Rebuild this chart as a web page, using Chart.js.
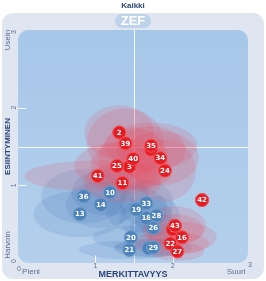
<!DOCTYPE html>
<html>
<head>
<meta charset="utf-8">
<script src="https://cdn.jsdelivr.net/npm/chart.js@4.4.0/dist/chart.umd.min.js"></script>
<style>
  html, body { margin: 0; padding: 0; background: #fff; }
  canvas { display: block; }
</style>
</head>
<body>
<canvas id="zefChart" width="266" height="281"></canvas>
<script>
// red group (label, merkittavyys, esiintyminen, spread x, spread y)
const redLabels = ["5", "2", "39", "35", "34", "3", "40", "25", "24", "41", "11", "42", "8", "43", "16", "22", "27"];
const redX      = [1.72, 1.31, 1.39, 1.72, 1.84, 1.44, 1.49, 1.28, 1.90, 1.03, 1.35, 2.38, 2.00, 2.03, 2.12, 1.97, 2.06];
const redY      = [1.46, 1.68, 1.54, 1.51, 1.35, 1.24, 1.34, 1.25, 1.19, 1.12, 1.03, 0.81, 0.43, 0.48, 0.33, 0.25, 0.15];
const redSdX    = [0.45, 0.45, 0.50, 0.60, 0.50, 0.50, 0.45, 0.55, 0.40, 0.95, 0.50, 0.08, 0.40, 0.40, 0.45, 0.50, 0.35];
const redSdY    = [0.30, 0.35, 0.45, 0.30, 0.35, 0.35, 0.40, 0.30, 0.40, 0.20, 0.25, 0.08, 0.20, 0.25, 0.20, 0.15, 0.12];

// blue group
const blueLabels = ["36", "10", "14", "13", "33", "19", "18", "28", "26", "20", "21", "9", "29"];
const blueX      = [0.85, 1.19, 1.07, 0.80, 1.66, 1.53, 1.66, 1.79, 1.75, 1.46, 1.44, 1.69, 1.75];
const blueY      = [0.86, 0.91, 0.75, 0.63, 0.77, 0.69, 0.58, 0.61, 0.45, 0.33, 0.17, 0.19, 0.20];
const blueSdX    = [0.55, 0.50, 0.45, 0.60, 0.35, 0.40, 0.35, 0.30, 0.30, 0.50, 0.65, 0.45, 0.50];
const blueSdY    = [0.35, 0.30, 0.30, 0.30, 0.30, 0.30, 0.25, 0.25, 0.20, 0.15, 0.12, 0.12, 0.12];

const tickValues = [0, 1, 2, 3];
const titleText = "Kaikki";
const xTitle = "MERKITTAVYYS";
const yTitle = "ESIINTYMINEN";
const xLowHigh = ["Pieni", "Suuri"];
const yLowHigh = ["Harvoin", "Usein"];

const navy = "#2c4677";

function toPoints(xs, ys) {
    return xs.map((x, i) => ({ x: x, y: ys[i] }));
}

function roundRect(ctx, x, y, w, h, r) {
    ctx.beginPath();
    ctx.moveTo(x + r, y);
    ctx.arcTo(x + w, y, x + w, y + h, r);
    ctx.arcTo(x + w, y + h, x, y + h, r);
    ctx.arcTo(x, y + h, x, y, r);
    ctx.arcTo(x, y, x + w, y, r);
    ctx.closePath();
}

function drawSpread(chart, xs, ys, sx, sy, color) {
    const ctx = chart.ctx;
    const xs_ = chart.scales.x, ys_ = chart.scales.y;
    ctx.fillStyle = color;
    for (let i = 0; i < xs.length; i++) {
        const cx = xs_.getPixelForValue(xs[i]);
        const cy = ys_.getPixelForValue(ys[i]);
        const rx = Math.abs(xs_.getPixelForValue(xs[i] + sx[i]) - cx);
        const ry = Math.abs(ys_.getPixelForValue(ys[i] + sy[i]) - cy);
        ctx.beginPath();
        ctx.ellipse(cx, cy, rx, ry, 0, 0, Math.PI * 2);
        ctx.fill();
    }
}

const backgroundPlugin = {
    id: 'zefBackground',
    beforeDraw(chart) {
        const ctx = chart.ctx;
        const a = chart.chartArea;
        const xs = chart.scales.x, ys = chart.scales.y;
        ctx.save();
        // outer panel
        ctx.fillStyle = "#dfe6f2";
        roundRect(ctx, 2, 13, 262, 266, 11);
        ctx.fill();
        // inner panel
        const grad = ctx.createLinearGradient(0, a.top, 0, a.bottom);
        grad.addColorStop(0, "#a7c7e9");
        grad.addColorStop(1, "#b3cfec");
        ctx.fillStyle = grad;
        roundRect(ctx, a.left, a.top, a.right - a.left - 2, a.bottom - a.top, 10);
        ctx.fill();

        // crosshair
        ctx.strokeStyle = "rgba(255,255,255,0.9)";
        ctx.lineWidth = 1;
        const mx = Math.round(xs.getPixelForValue(1.5)) + 0.5;
        const my = Math.round(ys.getPixelForValue(1.5)) + 0.5;
        ctx.beginPath();
        ctx.moveTo(mx, a.top); ctx.lineTo(mx, a.bottom);
        ctx.moveTo(a.left, my); ctx.lineTo(a.right - 2, my);
        ctx.stroke();
        // tick marks
        ctx.beginPath();
        [1, 2].forEach(v => {
            const px = Math.round(xs.getPixelForValue(v)) + 0.5;
            ctx.moveTo(px, a.bottom); ctx.lineTo(px, a.bottom - 8);
            const py = Math.round(ys.getPixelForValue(v)) + 0.5;
            ctx.moveTo(a.left, py); ctx.lineTo(a.left + 8, py);
        });
        ctx.stroke();

        // ZEF badge
        ctx.fillStyle = "#bed2ea";
        roundRect(ctx, 115, 14, 36, 14, 7);
        ctx.fill();
        ctx.fillStyle = "#ffffff";
        ctx.font = "bold 13px 'Liberation Sans', Arial, sans-serif";
        ctx.textAlign = "center";
        ctx.textBaseline = "middle";
        ctx.fillText("ZEF", 133, 21.5);

        // title
        ctx.fillStyle = navy;
        ctx.font = "bold 8px 'Liberation Sans', Arial, sans-serif";
        ctx.fillText(titleText, 133, 6);

        // x axis texts
        ctx.font = "bold 9px 'Liberation Sans', Arial, sans-serif";
        ctx.fillText(xTitle, 133, 275);
        ctx.fillStyle = "#5d6f8f";
        ctx.font = "7px 'Liberation Sans', Arial, sans-serif";
        tickValues.forEach(v => {
            const px = xs.getPixelForValue(v);
            let ty = 266;
            if (v === 0) ty = 269;
            if (v === 3) ty = 265;
            ctx.fillText(String(v), px + (v === 0 ? 1 : 0), ty);
        });
        ctx.font = "8px 'Liberation Sans', Arial, sans-serif";
        ctx.fillText(xLowHigh[0], 31, 272);
        ctx.fillText(xLowHigh[1], 236, 272);

        // y axis texts (rotated)
        ctx.save();
        ctx.translate(8, 0);
        ctx.rotate(-Math.PI / 2);
        ctx.fillStyle = navy;
        ctx.font = "bold 8px 'Liberation Sans', Arial, sans-serif";
        ctx.fillText(yTitle, -ys.getPixelForValue(1.5), 0);
        ctx.fillStyle = "#5d6f8f";
        ctx.font = "8px 'Liberation Sans', Arial, sans-serif";
        ctx.fillText(yLowHigh[1], -40, 0);
        ctx.fillText(yLowHigh[0], -245, 0);
        ctx.font = "7px 'Liberation Sans', Arial, sans-serif";
        tickValues.forEach(v => {
            let py = ys.getPixelForValue(v);
            if (v === 3) py += 2;
            if (v === 0) py -= 2;
            ctx.fillText(String(v), -py, 6);
        });
        ctx.restore();

        ctx.restore();
    },
    beforeDatasetsDraw(chart) {
        const ctx = chart.ctx;
        const a = chart.chartArea;
        ctx.save();
        roundRect(ctx, a.left, a.top, a.right - a.left - 2, a.bottom - a.top, 10);
        ctx.clip();
        drawSpread(chart, blueX, blueY, blueSdX, blueSdY, "rgba(70,120,180,0.16)");
        drawSpread(chart, redX, redY, redSdX, redSdY, "rgba(236,70,90,0.17)");
        ctx.restore();
    }
};

// circles and numbers drawn one by one, so a later circle hides an earlier number
const labelPlugin = {
    id: 'stackedLabels',
    afterDatasetsDraw(chart) {
        const c = chart.ctx;
        c.save();
        c.textAlign = "center";
        c.textBaseline = "middle";
        c.font = "bold 7px 'DejaVu Sans', sans-serif";
        [0, 1].forEach(di => {
            const meta = chart.getDatasetMeta(di);
            const labels = di === 0 ? blueLabels : redLabels;
            meta.data.forEach((pt, i) => {
                pt.draw(c, chart.chartArea);
                c.fillStyle = "#ffffff";
                c.fillText(labels[i], pt.x, pt.y + 0.5);
            });
        });
        c.restore();
    }
};

const ctx = document.getElementById("zefChart");
new Chart(ctx, {
    type: 'scatter',
    data: {
        datasets: [
            {
                label: 'blue',
                data: toPoints(blueX, blueY),
                backgroundColor: "#4c82b9",
                borderColor: "#6d9bc9",
                borderWidth: 1,
                pointRadius: 6.5,
                pointHoverRadius: 6.5
            },
            {
                label: 'red',
                data: toPoints(redX, redY),
                backgroundColor: "#e41d25",
                borderColor: "#f0545a",
                borderWidth: 1,
                pointRadius: 6.5,
                pointHoverRadius: 6.5
            }
        ]
    },
    options: {
        responsive: false,
        animation: false,
        events: [],
        layout: { padding: { left: 18, right: 16, top: 30, bottom: 18 } },
        plugins: { legend: { display: false }, tooltip: { enabled: false } },
        scales: {
            x: { type: 'linear', min: 0, max: 3, display: false },
            y: { type: 'linear', min: 0, max: 3, display: false }
        }
    },
    plugins: [backgroundPlugin, labelPlugin]
});
</script>
</body>
</html>
